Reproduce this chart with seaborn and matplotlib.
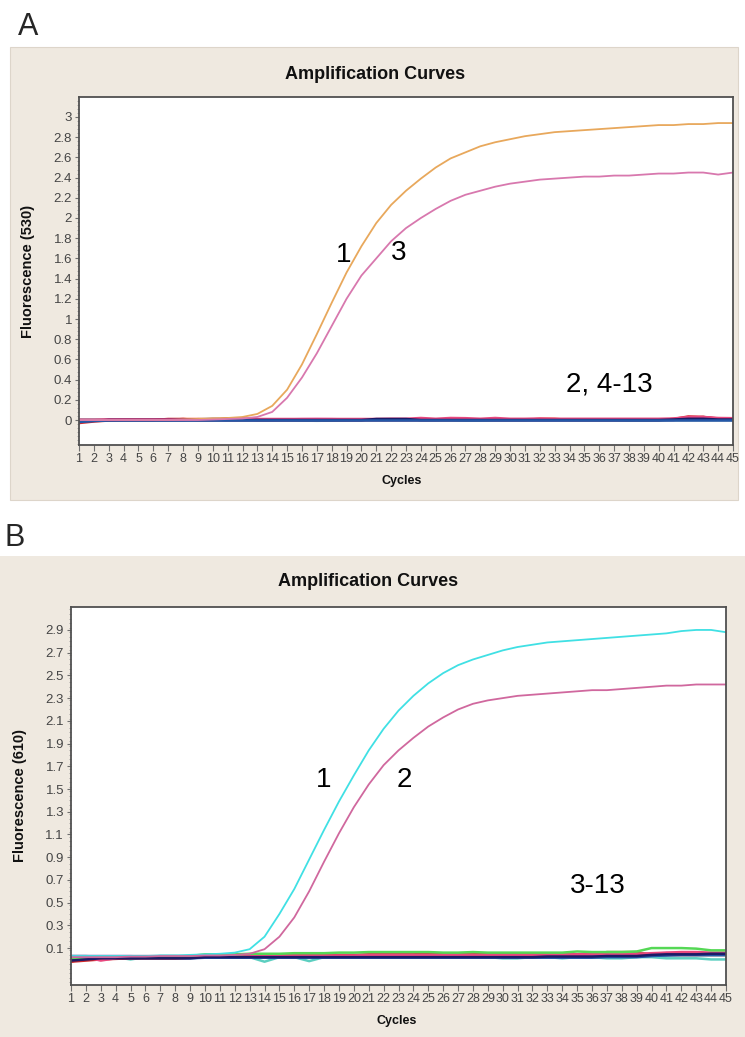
import matplotlib
matplotlib.use("Agg")
import matplotlib.pyplot as plt
from matplotlib.patches import Rectangle
from matplotlib.ticker import MultipleLocator, FixedLocator
import seaborn as sns

sns.set_style("white")
plt.rcParams["font.family"] = ["Liberation Sans", "DejaVu Sans"]

cycles = list(range(1, 46))

# ---------------- Panel A : Fluorescence (530) ----------------
a_s1 = [0, 0, 0, 0, 0, 0, 0, .005, .01, .015,
        .02, .03, .06, .14, .3, .55, .85, 1.16, 1.46, 1.72,
        1.95, 2.13, 2.27, 2.39, 2.5, 2.59, 2.65, 2.71, 2.75, 2.78,
        2.81, 2.83, 2.85, 2.86, 2.87, 2.88, 2.89, 2.9, 2.91, 2.92,
        2.92, 2.93, 2.93, 2.94, 2.94]
a_s3 = [0, 0, 0, 0, 0, 0, 0, 0, 0, .005,
        .01, .015, .03, .08, .22, .42, .66, .93, 1.2, 1.43,
        1.6, 1.77, 1.9, 2.0, 2.09, 2.17, 2.23, 2.27, 2.31, 2.34,
        2.36, 2.38, 2.39, 2.4, 2.41, 2.41, 2.42, 2.42, 2.43, 2.44,
        2.44, 2.45, 2.45, 2.43, 2.45]
a_s2 = [-.02, -.01, -.005, -.005, -.005, -.005, -.005, -.005, -.005, -.005,
        -.005, -.005, -.005, -.005, -.005, -.005, -.005, -.005, -.005, -.005,
        -.005, -.005, -.005, -.005, -.005, -.005, -.005, -.005, -.005, -.005,
        -.005, -.005, -.005, -.005, -.005, -.005, -.005, -.005, -.005, -.005,
        -.005, -.005, -.005, -.005, -.005]
a_s4 = [0, 0, 0, 0, 0, 0, 0, 0, .008, .012,
        .012, .005, .005, .005, .005, .005, .005, .005, .005, .005,
        .005, .005, .005, .005, .005, .005, .005, .005, .005, .005,
        .005, .005, .005, .005, .005, .005, .005, .005, .005, .005,
        .005, .02, .03, .01, .01]
a_s5 = [0, 0, 0, 0, 0, 0, 0, .01, .01, .005,
        0, 0, 0, 0, 0, 0, 0, 0, 0, 0,
        0, 0, 0, 0, 0, 0, 0, 0, 0, 0,
        0, .012, .012, 0, 0, 0, 0, 0, 0, 0,
        .01, .012, .012, .01, .01]
a_s6 = [0, 0, .004, .004, .004, .004, .004, .004, .004, .004,
        .004, .004, .004, .004, .004, .01, .012, .01, .004, .004,
        .004, .004, .004, .004, .004, .004, .008, .008, .004, .004,
        .004, .004, .004, .004, .004, .004, .004, .004, .004, .004,
        .004, .004, .004, .004, .004]
a_s7 = [0, 0, 0, 0, 0, 0, 0, 0, 0, 0,
        0, 0, 0, 0, 0, -.006, -.008, -.006, 0, 0,
        0, 0, 0, 0, 0, 0, -.006, -.006, 0, 0,
        0, 0, 0, 0, 0, 0, 0, -.006, -.006, -.004,
        0, 0, 0, 0, 0]
a_s8 = [0, 0, 0, 0, 0, 0, 0, 0, 0, 0,
        0, 0, 0, 0, .004, .006, .004, 0, 0, 0,
        0, 0, 0, 0, 0, .006, .004, .004, 0, 0,
        0, 0, 0, 0, 0, 0, 0, 0, 0, 0,
        0, 0, 0, 0, 0]
a_s9 = [-.01, -.005, 0, 0, 0, 0, 0, 0, 0, 0,
        0, 0, 0, 0, 0, 0, 0, 0, 0, 0,
        .008, .008, .008, .006, .006, .006, .006, .006, .006, .006,
        .006, .006, .006, .006, .006, .006, .006, .006, .006, .006,
        .006, .01, .02, .008, .008]
a_s10 = [-.03, -.015, -.005, 0, 0, 0, .01, .01, 0, 0,
         .015, .015, 0, 0, 0, 0, 0, 0, 0, 0,
         0, 0, 0, 0, 0, 0, 0, 0, 0, 0,
         0, 0, 0, 0, 0, 0, 0, 0, 0, 0,
         .01, .035, .03, .015, .01]
a_s11 = [0, 0, 0, 0, 0, 0, 0, 0, 0, 0,
         0, 0, 0, 0, 0, 0, 0, 0, 0, 0,
         0, 0, 0, 0, 0, 0, 0, 0, 0, 0,
         0, 0, 0, 0, 0, 0, 0, 0, 0, 0,
         0, .02, .025, .006, .006]
a_s12 = [0, 0, .005, .005, .005, .005, .005, .005, .005, .005,
         .005, .008, .01, .01, .01, .01, .01, .01, .01, .01,
         .01, .012, .012, .02, .012, .02, .018, .012, .02, .012,
         .012, .015, .012, .012, .012, .012, .012, .012, .012, .012,
         .015, .03, .03, .02, .018]
a_s13 = [-.01, -.008, 0, 0, 0, 0, 0, 0, 0, 0,
         0, 0, 0, 0, 0, 0, 0, 0, 0, 0,
         .01, .01, .01, 0, 0, 0, 0, 0, 0, 0,
         0, 0, 0, 0, 0, 0, 0, 0, 0, 0,
         .005, .012, .012, .005, .005]
a_yticks = [0, .2, .4, .6, .8, 1, 1.2, 1.4, 1.6, 1.8, 2, 2.2, 2.4, 2.6, 2.8, 3]
a_yticklabels = ["0", "0.2", "0.4", "0.6", "0.8", "1", "1.2", "1.4", "1.6",
                 "1.8", "2", "2.2", "2.4", "2.6", "2.8", "3"]

# ---------------- Panel B : Fluorescence (610) ----------------
b_s1 = [.03, .03, .03, .03, .03, .03, .035, .035, .04, .045,
        .05, .06, .09, .2, .4, .62, .88, 1.14, 1.39, 1.62,
        1.84, 2.03, 2.19, 2.32, 2.43, 2.52, 2.59, 2.64, 2.68, 2.72,
        2.75, 2.77, 2.79, 2.8, 2.81, 2.82, 2.83, 2.84, 2.85, 2.86,
        2.87, 2.89, 2.9, 2.9, 2.88]
b_s2 = [.02, .02, .02, .02, .025, .025, .03, .03, .03, .035,
        .035, .04, .05, .09, .2, .37, .6, .86, 1.11, 1.34,
        1.54, 1.71, 1.84, 1.95, 2.05, 2.13, 2.2, 2.25, 2.28, 2.3,
        2.32, 2.33, 2.34, 2.35, 2.36, 2.37, 2.37, 2.38, 2.39, 2.4,
        2.41, 2.41, 2.42, 2.42, 2.42]
b_s3 = [.01, .02, .02, .02, .02, .02, .02, .02, .03, .045,
        .045, .045, .05, .05, .05, .055, .055, .055, .06, .06,
        .065, .065, .065, .065, .065, .06, .06, .065, .06, .06,
        .06, .06, .06, .06, .07, .065, .065, .065, .07, .1,
        .1, .1, .095, .08, .08]
b_s4 = [-.01, 0, .01, .01, .01, .01, .01, .01, .01, .02,
        .02, .02, .02, .02, .02, .02, .02, .02, .02, .02,
        .02, .02, .02, .02, .02, .02, .02, .02, .02, .02,
        .02, .02, .025, .025, .025, .025, .03, .03, .03, .04,
        .045, .045, .045, .05, .05]
b_s5 = [0, .01, .01, .01, .01, .01, .01, .01, .01, .015,
        .015, .015, .015, .015, .015, .015, .015, .015, .015, .015,
        .015, .015, .015, .015, .015, .015, .015, .015, .015, .015,
        .015, .015, .015, .015, .015, .015, .02, .02, .02, .03,
        .035, .04, .04, .04, .04]
b_s6 = [-.02, -.01, 0, .005, .01, .01, .01, .01, .015, .03,
        .03, .03, .035, .035, .035, .035, .04, .04, .04, .04,
        .045, .045, .045, .045, .05, .045, .045, .045, .05, .05,
        .045, .045, .045, .045, .045, .05, .05, .05, .045, .045,
        .055, .05, .06, .05, .05]
b_s7 = [.02, .02, -.01, .01, .02, .02, .02, .02, .015, .03,
        .035, .035, .035, .035, .035, .035, .035, .035, .035, .035,
        .04, .04, .04, .04, .04, .04, .04, .04, .04, .04,
        .04, .04, .045, .045, .045, .045, .045, .05, .05, .055,
        .06, .065, .065, .06, .06]
b_s8 = [.03, .03, .03, .03, .03, .02, .02, .025, .025, .03,
        .035, .035, .035, .035, .035, .035, .035, .035, .035, .035,
        .035, .035, .04, .04, .04, .04, .04, .04, .04, .035,
        .035, .04, .04, .04, .04, .04, .05, .05, .045, .045,
        .06, .055, .05, .05, .05]
b_s9 = [.03, .03, .02, .02, 0, .02, .03, .03, .02, .02,
        .02, .02, .02, -.02, .02, .02, -.015, .02, .02, .02,
        .02, .02, .02, .02, .02, .02, .02, .02, .02, .01,
        .01, .02, .02, .01, .02, .02, .01, .01, .02, .02,
        .01, .01, .01, 0, 0]
b_s10 = [-.02, .02, .02, .02, .02, .025, .025, .02, .02, .025,
         .025, .025, .025, .025, .025, .025, .025, .025, .025, .025,
         .025, .025, .025, .025, .025, .025, .03, .03, .03, .03,
         .03, .03, .03, .03, .03, .03, .035, .035, .04, .04,
         .04, .045, .05, .045, .045]
b_s11 = [.02, .02, .02, .02, .02, .02, .02, .02, .02, .03,
         .03, .03, .03, .03, .03, .03, .03, .03, .03, .03,
         .03, .03, .03, .03, .03, .03, .03, .03, .03, .03,
         .03, .03, .03, .03, .03, .035, .065, .065, .065, .04,
         .04, .04, .04, .04, .04]
b_s12 = [.02, .02, .02, .02, .02, .02, .02, .02, .02, .025,
         .025, .025, .025, .025, .025, .025, .025, .025, .025, .025,
         .025, .025, .025, .025, .025, .025, .025, .025, .025, .025,
         .025, .025, .03, .03, .03, .03, .035, .045, .045, .045,
         .05, .05, .05, .05, .05]
b_s13 = [.03, .03, .03, .03, .03, .03, .03, .03, .03, .03,
         .03, .03, .03, .03, .03, .03, .025, .03, .03, .03,
         .03, .03, .03, .03, .03, .03, .03, .03, .03, .03,
         .03, .03, .03, .03, .03, .03, .03, .03, .03, .03,
         .035, .035, .035, .035, .035]
b_yticks = [.1, .3, .5, .7, .9, 1.1, 1.3, 1.5, 1.7, 1.9, 2.1, 2.3, 2.5, 2.7, 2.9]
b_yticklabels = ["0.1", "0.3", "0.5", "0.7", "0.9", "1.1", "1.3", "1.5", "1.7",
                 "1.9", "2.1", "2.3", "2.5", "2.7", "2.9"]

xticklabels = [str(c) for c in cycles]

# ---------------- styling ----------------
BEIGE = "#EFE9E0"
TICKCOL = "#454545"

a_base = [(a_s4, "#9a5a3a"), (a_s5, "#ff5b2e"), (a_s6, "#f5b0e0"), (a_s7, "#5ccfc0"),
          (a_s8, "#a07484"), (a_s9, "#7d1840"), (a_s10, "#d0282a"), (a_s11, "#8a3aa0"),
          (a_s12, "#e8487e"), (a_s13, "#1c1a66"), (a_s2, "#2458a8")]
b_base = [(b_s9, "#5ccfc0"), (b_s8, "#f0b8ec"), (b_s13, "#8c8cc0"), (b_s10, "#7d1840"),
          (b_s11, "#8a7a2a"), (b_s12, "#7a3aa8"), (b_s5, "#2458a8"), (b_s6, "#d0282a"),
          (b_s7, "#e8487e"), (b_s3, "#55d855"), (b_s4, "#1c1a66")]

fig = plt.figure(figsize=(7.45, 10.37), dpi=100)
fig.patch.set_facecolor("white")
fig.patches.append(Rectangle((10 / 745, 1 - 500 / 1037), 728 / 745, 453 / 1037,
                             transform=fig.transFigure, facecolor=BEIGE,
                             edgecolor="#ddd5ca", lw=0.8, zorder=-5))
fig.patches.append(Rectangle((0, 0), 1, 1 - 556 / 1037,
                             transform=fig.transFigure, facecolor=BEIGE,
                             edgecolor="none", zorder=-5))

axA = fig.add_axes([79 / 745, 1 - 445 / 1037, 654 / 745, 348 / 1037])
axB = fig.add_axes([71 / 745, 1 - 985 / 1037, 655 / 745, 378 / 1037])


def style_axes(ax, yticks, yticklabels, ylim, minor, ylab, title, title_xy, cyc_xy, ylab_x):
    ax.set_facecolor("white")
    ax.set_xlim(1, 45)
    ax.set_ylim(*ylim)
    ax.xaxis.set_major_locator(FixedLocator(cycles))
    ax.set_xticklabels(xticklabels, fontsize=9, color=TICKCOL)
    ax.yaxis.set_major_locator(FixedLocator(yticks))
    ax.set_yticklabels(yticklabels, fontsize=9.5, color=TICKCOL)
    ax.yaxis.set_minor_locator(MultipleLocator(minor))
    ax.tick_params(axis="x", which="major", direction="out", length=4, width=0.8,
                   color="#707070", pad=2, bottom=True)
    ax.tick_params(axis="y", which="major", direction="out", length=3, width=0.8,
                   color="#707070", pad=2, left=True)
    ax.tick_params(axis="y", which="minor", direction="out", length=1.5, width=0.6,
                   color="#9a9a9a", left=True)
    for side, sp in ax.spines.items():
        sp.set_visible(True)
        sp.set_color("#505050")
        sp.set_linewidth(1.3)
    ax.set_ylabel(ylab, fontsize=10.5, fontweight="bold", color="#111111")
    ax.yaxis.set_label_coords(ylab_x, 0.5)
    ax.yaxis.label.set_va("center")
    ax.set_xlabel("Cycles", fontsize=9, fontweight="bold", color="#111111")
    ax.xaxis.set_label_coords(*cyc_xy)
    ax.xaxis.label.set_va("center")
    ax.set_title(title, fontsize=13, fontweight="bold", color="#111111",
                 x=title_xy[0], y=title_xy[1], va="center", pad=0)


# Panel A curves
for vals, col in a_base:
    sns.lineplot(x=cycles, y=vals, color=col, lw=1.8, ax=axA, legend=False)
sns.lineplot(x=cycles, y=a_s1, color="#e8a85c", lw=1.3, ax=axA, legend=False)
sns.lineplot(x=cycles, y=a_s3, color="#d878ae", lw=1.3, ax=axA, legend=False)

# Panel B curves
for vals, col in b_base:
    sns.lineplot(x=cycles, y=vals, color=col, lw=1.8, ax=axB, legend=False)
sns.lineplot(x=cycles, y=b_s1, color="#40e0e4", lw=1.3, ax=axB, legend=False)
sns.lineplot(x=cycles, y=b_s2, color="#d0689e", lw=1.3, ax=axB, legend=False)

style_axes(axA, a_yticks, a_yticklabels, (-0.2475, 3.198), 0.04, "Fluorescence (530)",
           "Amplification Curves", (0.4526, 1.066), (0.4939, -0.1034), -0.078)
style_axes(axB, b_yticks, b_yticklabels, (-0.225, 3.102), 0.04, "Fluorescence (610)",
           "Amplification Curves", (0.4534, 1.068), (0.4977, -0.0952), -0.078)

# curve annotations
ann = dict(fontsize=20, color="black", ha="center", va="center")
axA.text(18.8, 1.63, "1", **ann)
axA.text(22.5, 1.65, "3", **ann)
axA.text(36.7, 0.35, "2, 4-13", **ann)
axB.text(18.0, 1.58, "1", **ann)
axB.text(23.4, 1.58, "2", **ann)
axB.text(36.4, 0.65, "3-13", **ann)

# panel letters
fig.text(28 / 745, 1 - 27 / 1037, "A", fontsize=22, ha="center", va="center")
fig.text(15 / 745, 1 - 538 / 1037, "B", fontsize=22, ha="center", va="center")

fig.savefig("out.png", dpi=100, facecolor=fig.get_facecolor())
